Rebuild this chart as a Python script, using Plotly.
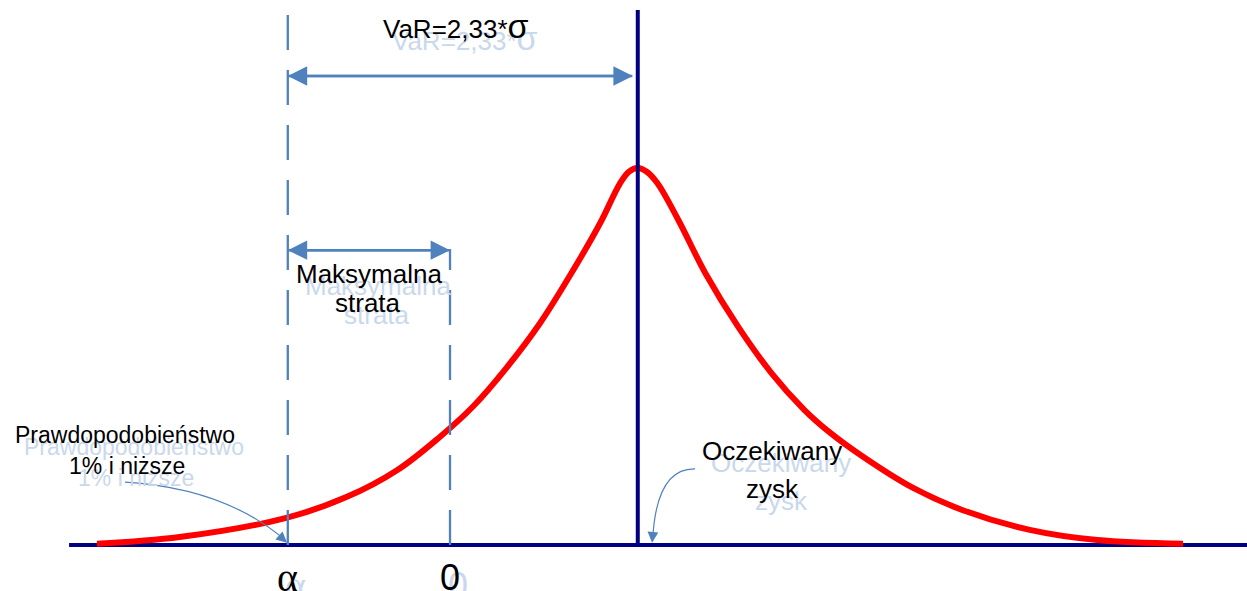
import plotly.graph_objects as go

# Returns are measured in units of sigma; 0 is zero return
SIGMA = 1.0
Z_99 = 2.33                    # one-sided 99% quantile
MU = 1.25                      # expected return
ALPHA = MU - Z_99 * SIGMA      # 1% quantile of the return distribution

# Return distribution (relative density, peak = 1)
ret = [-2.35, -1.80, -1.09, -0.69, -0.35, -0.07, 0.15, 0.38, 0.60, 0.82,
       1.00, 1.13, 1.19, 1.25, 1.31, 1.38, 1.52, 1.70, 1.92, 2.14,
       2.36, 2.53, 2.75, 3.08, 3.41, 3.86, 4.31, 4.88]
density = [0.003, 0.021, 0.072, 0.127, 0.199, 0.286, 0.366, 0.472, 0.589, 0.729,
           0.854, 0.958, 0.990, 1.000, 0.990, 0.960, 0.862, 0.721, 0.578, 0.456,
           0.358, 0.298, 0.234, 0.152, 0.093, 0.040, 0.013, 0.003]

# Axis labels under the baseline
tick_vals = [ALPHA, 0.0]
tick_text = ["α", "0"]

NAVY = "#000080"
BLUE = "#4F81BD"
GHOST = "#CAD8EC"
SANS = "Liberation Sans, Arial, sans-serif"
SERIF = "Liberation Serif, Times New Roman, serif"

X_RANGE = [-2.996, 5.306]
Y_RANGE = [-0.122, 1.4456]

fig = go.Figure()

fig.add_trace(go.Scatter(
    x=ret, y=density, mode="lines",
    line=dict(color="#FF0000", width=6, shape="spline", smoothing=1.0),
    hoverinfo="skip",
))

shapes = [
    # baseline (return axis)
    dict(type="line", xref="x", yref="y", x0=-2.536, x1=X_RANGE[1], y0=0, y1=0,
         line=dict(color=NAVY, width=4), layer="below"),
    # expected return
    dict(type="line", xref="x", yref="y", x0=MU, x1=MU, y0=0, y1=1.419,
         line=dict(color=NAVY, width=4), layer="above"),
    # 1% quantile
    dict(type="line", xref="x", yref="y", x0=ALPHA, x1=ALPHA, y0=0, y1=1.411,
         line=dict(color=BLUE, width=2.3, dash="35px,20px"), layer="above"),
    # zero return
    dict(type="line", xref="x", yref="y", x0=0, x1=0, y0=0, y1=0.785,
         line=dict(color=BLUE, width=2.3, dash="35px,20px"), layer="above"),
    # callout curves
    dict(type="path", xref="x", yref="y",
         path="M -2.164,0.167 Q -1.498,0.151 -1.095,0.012",
         line=dict(color=BLUE, width=1.2), layer="above"),
    dict(type="path", xref="x", yref="y",
         path="M 1.631,0.202 Q 1.372,0.204 1.349,0.012",
         line=dict(color=BLUE, width=1.2), layer="above"),
]

VAR_Y = 1.244
LOSS_Y = 0.782

annotations = []


def double_arrow(x_left, x_right, y, standoff_right=0):
    # two full-length single-headed arrows laid over each other
    common = dict(xref="x", yref="y", axref="x", ayref="y", text="", showarrow=True,
                  arrowhead=2, arrowsize=1.55, arrowwidth=2.5, arrowcolor=BLUE,
                  bgcolor="rgba(0,0,0,0)", borderpad=0)
    annotations.append(dict(x=x_right, y=y, ax=x_left, ay=y,
                            standoff=standoff_right, **common))
    annotations.append(dict(x=x_left, y=y, ax=x_right, ay=y,
                            startstandoff=standoff_right, standoff=0, **common))


double_arrow(ALPHA, MU, VAR_Y, standoff_right=5)
double_arrow(ALPHA, 0.0, LOSS_Y)

# callout arrow heads
annotations.append(dict(x=ALPHA - 0.005, y=0.006, xref="x", yref="y", text="",
                        showarrow=True, ax=-9, ay=-8, arrowhead=2, arrowsize=1.8,
                        arrowwidth=1.2, arrowcolor=BLUE))
annotations.append(dict(x=MU + 0.095, y=0.006, xref="x", yref="y", text="",
                        showarrow=True, ax=1, ay=-12, arrowhead=2, arrowsize=1.8,
                        arrowwidth=1.2, arrowcolor=BLUE))


def label(text, x, y, size, family=SANS, dx=9, dy=12):
    # pale shadow copy first, then the black text on top
    for color, sx, sy in ((GHOST, dx, -dy), ("#000000", 0, 0)):
        annotations.append(dict(x=x, y=y, xref="x", yref="y", text=text, showarrow=False,
                                xanchor="center", yanchor="middle", xshift=sx, yshift=sy,
                                font=dict(family=family, size=size, color=color)))


label("VaR=2,33*<span style='font-size:34px'>σ</span>", 0.04, 1.377, 26)
label("Maksymalna", -0.539, 0.719, 26)
label("strata", -0.543, 0.642, 26)
label("Prawdopodobieństwo", -2.164, 0.292, 23)
label("1% i niższe", -2.150, 0.2095, 23)
label("Oczekiwany", 2.144, 0.249, 26)
label("zysk", 2.144, 0.1485, 26)

for val, txt in zip(tick_vals, tick_text):
    fam, size = (SERIF, 40) if txt == "α" else (SANS, 36)
    label(txt, val, -0.085, size, family=fam, dx=8, dy=8)

fig.update_layout(
    width=1247, height=591,
    margin=dict(l=0, r=0, t=0, b=0),
    paper_bgcolor="white", plot_bgcolor="white",
    showlegend=False,
    xaxis=dict(range=X_RANGE, visible=False, fixedrange=True),
    yaxis=dict(range=Y_RANGE, visible=False, fixedrange=True),
    shapes=shapes,
    annotations=annotations,
)

fig.write_html("out.html", config={"displayModeBar": False})
